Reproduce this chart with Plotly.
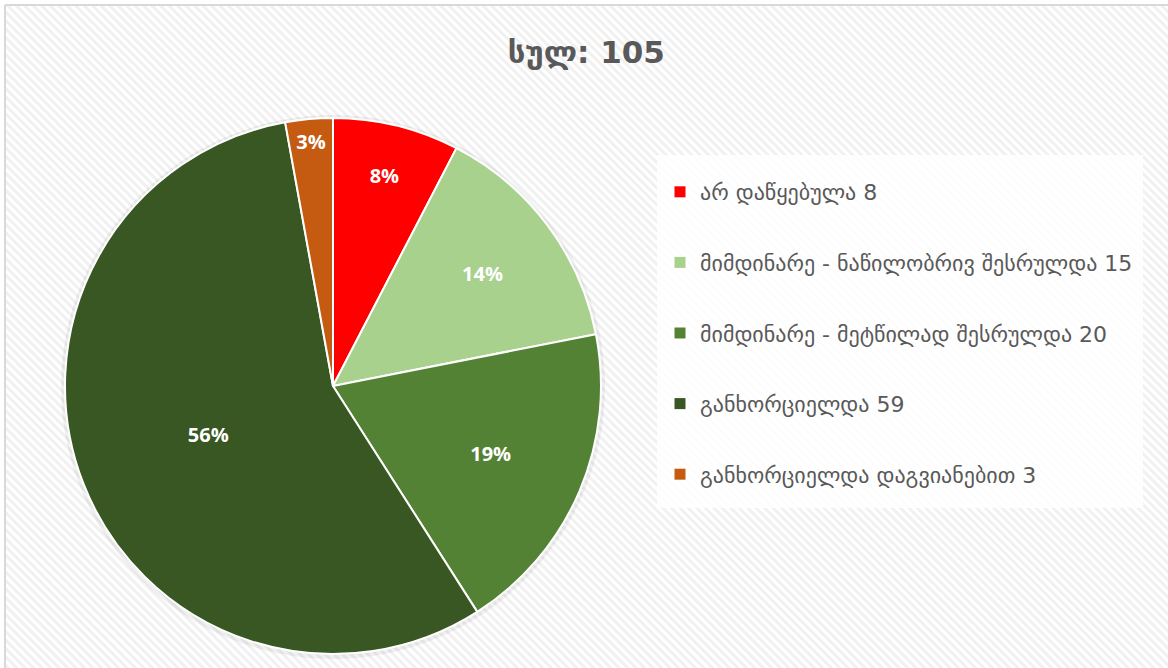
import base64
import plotly.graph_objects as go

title_text = "სულ: 105"
labels = [
    "არ დაწყებულა 8",
    "მიმდინარე - ნაწილობრივ შესრულდა 15",
    "მიმდინარე - მეტწილად შესრულდა 20",
    "განხორციელდა 59",
    "განხორციელდა დაგვიანებით 3",
]
values = [8, 15, 20, 59, 3]
colors = ["#FF0000", "#A9D18E", "#548235", "#385723", "#C55A11"]

W, H = 1168, 668

svg = (
    f'<svg xmlns="http://www.w3.org/2000/svg" width="{W}" height="{H}">'
    '<defs><pattern id="p" width="6" height="6" patternUnits="userSpaceOnUse" '
    'patternTransform="rotate(-45)"><rect width="6" height="6" fill="#ffffff"/>'
    '<rect width="3" height="6" fill="#f1f1f1"/></pattern></defs>'
    f'<rect width="{W}" height="{H}" fill="url(#p)"/></svg>'
)
bg_uri = "data:image/svg+xml;base64," + base64.b64encode(svg.encode()).decode()

fig = go.Figure()

cx, cy, r = 333, 386, 268
fig.add_trace(go.Pie(
    labels=labels,
    values=values,
    sort=False,
    direction="clockwise",
    rotation=0,
    marker=dict(colors=colors, line=dict(color="white", width=2)),
    texttemplate="%{percent:.0%}",
    textposition="inside",
    insidetextorientation="horizontal",
    textfont=dict(family="Open Sans", size=20, color="white", weight="bold"),
    showlegend=False,
    hoverinfo="label+value+percent",
    domain=dict(x=[(cx - r) / W, (cx + r) / W], y=[(H - cy - r) / H, (H - cy + r) / H]),
))

for lab, col in zip(labels, colors):
    fig.add_trace(go.Scatter(
        x=[None], y=[None], mode="markers", name=lab, legendgroup=lab,
        marker=dict(symbol="square", size=11, color=col),
        showlegend=True, hoverinfo="skip",
    ))

fig.update_layout(
    width=W, height=H,
    margin=dict(l=0, r=0, t=0, b=0),
    paper_bgcolor="white",
    plot_bgcolor="rgba(0,0,0,0)",
    xaxis=dict(visible=False),
    yaxis=dict(visible=False),
    title=dict(text=title_text, x=0.502, xanchor="center", y=1 - 52 / H, yanchor="middle",
               font=dict(family="DejaVu Sans", size=31, color="#595959", weight="bold")),
    legend=dict(
        x=660 / W, y=1 - 171 / H, xanchor="left", yanchor="top",
        bgcolor="rgba(0,0,0,0)", borderwidth=0,
        font=dict(family="DejaVu Sans", size=22, color="#595959"),
        tracegroupgap=39, itemwidth=30,
    ),
    images=[dict(source=bg_uri, xref="paper", yref="paper", x=6 / W, y=1 - 6 / H,
                 sizex=1, sizey=1, sizing="stretch", xanchor="left", yanchor="top",
                 layer="below")],
    shapes=[
        dict(type="rect", xref="paper", yref="paper", x0=657 / W, x1=1143 / W,
             y0=1 - 508 / H, y1=1 - 155 / H, fillcolor="white", line=dict(width=0),
             layer="below", opacity=0.85),
        dict(type="line", xref="paper", yref="paper", x0=5 / W, x1=5 / W, y0=0, y1=1 - 5 / H,
             line=dict(color="#d9d9d9", width=2)),
        dict(type="line", xref="paper", yref="paper", x0=5 / W, x1=1, y0=1 - 5 / H, y1=1 - 5 / H,
             line=dict(color="#d9d9d9", width=2)),
        dict(type="circle", xref="paper", yref="paper",
             x0=(cx - r - 4) / W, x1=(cx + r + 4) / W, y0=(H - cy - r - 5) / H, y1=(H - cy + r + 3) / H,
             fillcolor="rgba(0,0,0,0.06)", line=dict(width=0), layer="below"),
    ],
)

fig.write_html("out.html", config={"displayModeBar": False},
               post_script="document.body.style.margin='0';")
